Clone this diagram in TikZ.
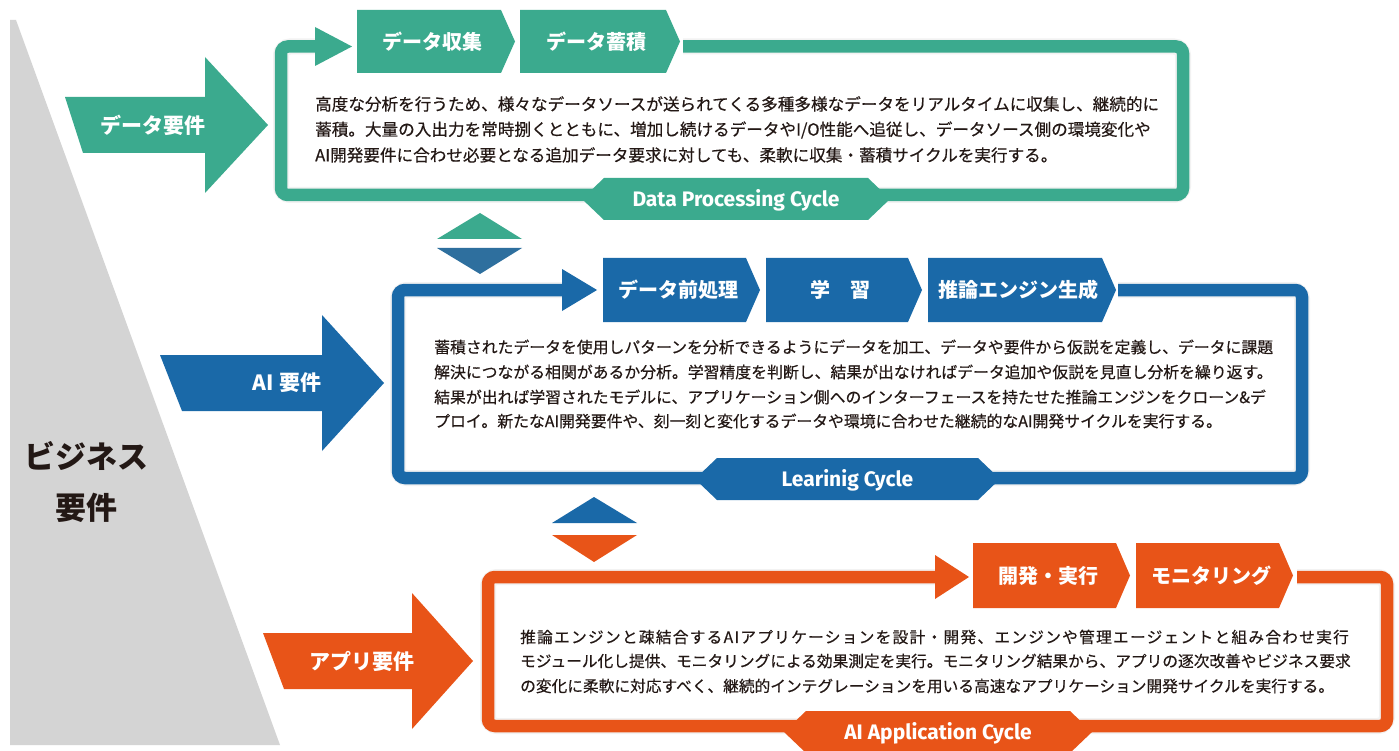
\documentclass[tikz,border=0pt]{standalone}
\usepackage{fontspec}
\newfontfamily\jp{Noto Sans CJK JP}
\newfontfamily\jpm[FakeBold=0.4]{Noto Sans CJK JP}
\newfontfamily\jpms[FakeBold=0.4,LetterSpace=8]{Noto Sans CJK JP}
\newfontfamily\enfont{Fira Sans}
\definecolor{cgreen}{HTML}{3BAA8E}
\definecolor{cblue}{HTML}{1A69A8}
\definecolor{cdblue}{HTML}{2E6F9E}
\definecolor{corange}{HTML}{E85418}
\definecolor{cgrey}{HTML}{D4D4D4}
\definecolor{ctext}{HTML}{231815}
\definecolor{chalo}{HTML}{F2F2F2}
\tikzset{
  boxlabel/.style={font={\jp\bfseries\fontsize{20}{24}\selectfont}, text=white, inner sep=0pt},
  arrlabel/.style={font={\jp\bfseries\fontsize{21}{24}\selectfont}, text=white, inner sep=0pt},
  bizlabel/.style={font={\jp\bfseries\fontsize{31}{38}\selectfont}, text=ctext, inner sep=0pt},
  bodyg/.style={font={\jpm\fontsize{16.6}{20}\selectfont}, text=ctext, anchor=west, inner sep=0pt},
  bodyb/.style={font={\jpm\fontsize{15.85}{20}\selectfont}, text=ctext, anchor=west, inner sep=0pt},
  bodyo/.style={font={\jpm\fontsize{15.7}{20}\selectfont}, text=ctext, anchor=west, inner sep=0pt},
  bodyos/.style={font={\jpms\fontsize{15.7}{20}\selectfont}, text=ctext, anchor=west, inner sep=0pt},
  cyclab/.style={font={\enfont\bfseries\fontsize{21}{24}\selectfont}, text=white, inner sep=0pt},
  frameline/.style={line width=12.5pt, rounded corners=7pt},
  halo/.style={chalo, line width=16pt, rounded corners=9pt}
}
% chevron box: name, x1, x2, y1, y2, colour, text
\newcommand\chevbox[7]{%
  \fill[#6] (#2,#4) -- ({#3-14},#4) -- (#3,{(#4+#5)/2}) -- ({#3-14},#5) -- (#2,#5) -- cycle;
  \node[boxlabel] (#1) at ({(#2+#3-7)/2},{(#4+#5)/2}) {#7};}
% big arrow: colour, x left top, x left bottom, x head base, x tip, y centre
\newcommand\bigarrow[6]{%
  \fill[#1] (#2,{#6-28}) -- (#4,{#6-28}) -- (#4,{#6-68}) -- (#5,#6) -- (#4,{#6+68}) -- (#4,{#6+28}) -- (#3,{#6+28}) -- cycle;}
% hexagon label: name, x left, x right, y centre, colour, text
\newcommand\hexlab[6]{%
  \fill[#5] (#2,#4) -- ({#2+22},{#4-21}) -- ({#3-22},{#4-21}) -- (#3,#4) -- ({#3-22},{#4+21}) -- ({#2+22},{#4+21}) -- cycle;
  \node[cyclab] (#1) at ({(#2+#3)/2},{#4+1}) {#6};}
\begin{document}
\begin{tikzpicture}[x=1pt,y=-1pt]
\fill[white] (0,0) rectangle (1399,751);
\useasboundingbox (0,0) rectangle (1399,751);

% grey business wedge
\fill[cgrey] (10,20) -- (16,20) -- (280,745) -- (10,745) -- cycle;
\node[bizlabel] (biz1) at (86,456) {ビジネス};
\node[bizlabel] (biz2) at (86,508) {要件};

% ===== green row =====
\bigarrow{cgreen}{65}{83}{205}{268}{125}
\node[arrlabel] (greq) at (153,125) {データ要件};
\draw[halo] (317,46.5) -- (281,46.5) -- (281,195) -- (1183,195) -- (1183,46.5) -- (683,46.5);
\draw[cgreen, frameline] (317,46.5) -- (281,46.5) -- (281,195) -- (1183,195) -- (1183,46.5) -- (683,46.5);
\fill[cgreen] (315,27) -- (352,46.5) -- (315,66) -- cycle;
\chevbox{g1}{357}{515}{10}{73}{cgreen}{データ収集}
\chevbox{g2}{520}{680}{10}{73}{cgreen}{データ蓄積}
\node[bodyg] (gt1) at (315,104) {高度な分析を行うため、様々なデータソースが送られてくる多種多様なデータをリアルタイムに収集し、継続的に};
\node[bodyg] (gt2) at (315,130) {蓄積。大量の入出力を常時捌くとともに、増加し続けるデータやI/O性能へ追従し、データソース側の環境変化や};
\node[bodyg] (gt3) at (315,155) {AI開発要件に合わせ必要となる追加データ要求に対しても、柔軟に収集・蓄積サイクルを実行する。};
\hexlab{gcyc}{582}{890}{199}{cgreen}{Data Processing Cycle}

% connectors green/blue
\fill[cgreen] (437,239) -- (522,239) -- (480,213) -- cycle;
\fill[cdblue] (437,248) -- (522,248) -- (480,274) -- cycle;

% ===== blue row =====
\bigarrow{cblue}{160}{182}{322}{384}{383}
\node[arrlabel] (breq) at (287,383) {AI 要件};
\draw[halo] (563,290) -- (398,290) -- (398,478) -- (1302,478) -- (1302,290) -- (1118,290);
\draw[cblue, frameline] (563,290) -- (398,290) -- (398,478) -- (1302,478) -- (1302,290) -- (1118,290);
\fill[cblue] (562,269) -- (597,290) -- (562,311) -- cycle;
\chevbox{b1}{603}{760}{258}{322}{cblue}{データ前処理}
\chevbox{b2}{766}{922}{258}{322}{cblue}{学　習}
\chevbox{b3}{928}{1116}{258}{322}{cblue}{推論エンジン生成}
\node[bodyb] (bt1) at (434,347) {蓄積されたデータを使用しパターンを分析できるようにデータを加工、データや要件から仮説を定義し、データに課題};
\node[bodyb] (bt2) at (434,372) {解決につながる相関があるか分析。学習精度を判断し、結果が出なければデータ追加や仮説を見直し分析を繰り返す。};
\node[bodyb] (bt3) at (434,397) {結果が出れば学習されたモデルに、アプリケーション側へのインターフェースを持たせた推論エンジンをクローン\&デ};
\node[bodyb] (bt4) at (434,421) {プロイ。新たなAI開発要件や、刻一刻と変化するデータや環境に合わせた継続的なAI開発サイクルを実行する。};
\hexlab{bcyc}{695}{1000}{479}{cblue}{Learinig Cycle}

% connectors blue/orange
\fill[cblue] (552,523) -- (637,523) -- (594,497) -- cycle;
\fill[corange] (552,535) -- (637,535) -- (594,562) -- cycle;

% ===== orange row =====
\bigarrow{corange}{263}{284}{412}{473}{661}
\node[arrlabel] (oreq) at (362,661) {アプリ要件};
\draw[halo] (936,577) -- (488,577) -- (488,726) -- (1387,726) -- (1387,577) -- (1297,577);
\draw[corange, frameline] (936,577) -- (488,577) -- (488,726) -- (1387,726) -- (1387,577) -- (1297,577);
\fill[corange] (935,555) -- (969,577) -- (935,599) -- cycle;
\chevbox{o1}{973}{1130}{543}{608}{corange}{開発・実行}
\chevbox{o2}{1136}{1293}{543}{608}{corange}{モニタリング}
\node[bodyos] (ot1) at (520,637) {推論エンジンと疎結合するAIアプリケーションを設計・開発、エンジンや管理エージェントと組み合わせ実行};
\node[bodyo] (ot2) at (520,661) {モジュール化し提供、モニタリングによる効果測定を実行。モニタリング結果から、アプリの逐次改善やビジネス要求};
\node[bodyo] (ot3) at (520,686) {の変化に柔軟に対応すべく、継続的インテグレーションを用いる高速なアプリケーション開発サイクルを実行する。};
\hexlab{ocyc}{784}{1092}{732}{corange}{AI Application Cycle}
\end{tikzpicture}
\end{document}
